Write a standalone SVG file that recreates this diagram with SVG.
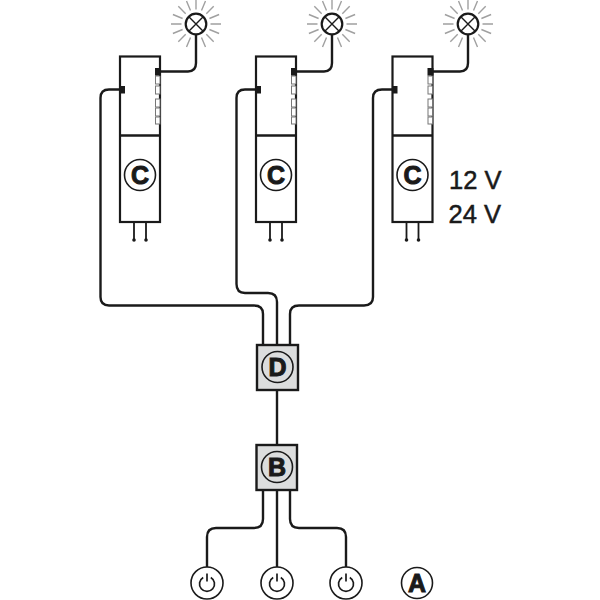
<svg xmlns="http://www.w3.org/2000/svg" width="600" height="600" viewBox="0 0 600 600">
<style>
.w{fill:none;stroke:#1a1a1a;stroke-width:2.4;stroke-linecap:butt}
.p{fill:none;stroke:#1a1a1a;stroke-width:1.8}
.b{fill:#fff;stroke:#1a1a1a;stroke-width:2.2}
.g{fill:#dcdddd;stroke:#1a1a1a;stroke-width:2.4}
.c{fill:none;stroke:#1a1a1a;stroke-width:1.6}
.cw{fill:#fff;stroke:#1a1a1a;stroke-width:1.6}
.ray{stroke:#a0a0a0;stroke-width:1.4;fill:none}
.s{fill:#fff;stroke:#777;stroke-width:1}
.l{font-family:"Liberation Sans",Arial,sans-serif;font-weight:700;font-size:25px;fill:#1a1a1a;stroke:#1a1a1a;stroke-width:1;text-anchor:middle}
.v{font-family:"Liberation Sans",Arial,sans-serif;font-size:25.500px;fill:#1a1a1a;stroke:#1a1a1a;stroke-width:.5}
</style>
<defs>
<g id="lamp">
<path class="ray" d="M0-14.500V-25M5.500-13.400 9.500-23.100M10.300-10.300 17.700-17.700M13.400-5.500 23.100-9.500M14.500 0H25M13.400 5.500 23.100 9.500M10.300 10.300 17.700 17.700M5.500 13.400 9.500 23.100M-5.500-13.400-9.500-23.100M-10.300-10.300-17.700-17.700M-13.400-5.500-23.100-9.500M-14.500 0H-25M-13.400 5.500-23.100 9.500M-10.300 10.300-17.700 17.700M-5.500 13.400-9.500 23.100"/>
<circle r="10.300" fill="#fff" stroke="#1a1a1a" stroke-width="2.200"/>
<path d="M-7.200-7.200 7.200 7.200M-7.200 7.200 7.200-7.200" stroke="#1a1a1a" stroke-width="1.400"/>
</g>
<g id="module">
<path class="p" d="M14 222V240M26 222V240"/>
<circle cx="14" cy="240" r="1.800" fill="#1a1a1a"/><circle cx="26" cy="240" r="1.800" fill="#1a1a1a"/>
<rect class="b" x="0" y="56.500" width="40" height="165.500"/>
<path class="w" d="M0 135.500H40"/>
<rect class="s" x="35.500" y="76" width="4.500" height="8"/><rect class="s" x="35.500" y="86" width="4.500" height="8"/><rect class="s" x="35.500" y="99" width="4.500" height="8"/><rect class="s" x="35.500" y="108" width="4.500" height="8"/><rect class="s" x="35.500" y="117" width="4.500" height="7"/>
<rect x="35" y="68" width="6" height="7.500" fill="#1a1a1a"/>
<rect x="0" y="86" width="5" height="7.500" fill="#1a1a1a"/>
<circle class="c" cx="20" cy="175" r="15.500"/>
<text class="l" x="20" y="184">C</text>
</g>
<g id="power">
<circle class="cw" r="16"/>
<path d="M-3.800-5.500A7.500 7.500 0 1 0 3.800-5.500M0-9.500V-1.500" fill="none" stroke="#1a1a1a" stroke-width="1.700"/>
</g>
</defs>
<g id="connectors">
<path class="w" d="M161 71.500H188Q196 71.500 196 63V34"/>
<path class="w" d="M297 71.500H324Q332 71.500 332 63V34"/>
<path class="w" d="M433 71.500H460Q468 71.500 468 63V34"/>
<path class="w" d="M120 89.500H109Q100.500 89.500 100.500 98V297Q100.500 305.500 109 305.500H254Q263 305.500 263 314V345"/>
<path class="w" d="M256 89.500H245Q236.500 89.500 236.500 98V284Q236.500 293 245 293H268Q277 293 277 302V345"/>
<path class="w" d="M392 89.500H382Q373 89.500 373 98V297Q373 305.500 364 305.500H299Q290 305.500 290 314V345"/>
<path class="w" d="M277 390V445"/>
<path class="w" d="M263 490V519Q263 528 254 528H216Q207 528 207 537V567"/>
<path class="w" d="M277 490V567"/>
<path class="w" d="M290 490V519Q290 528 299 528H337Q346 528 346 537V567"/>
</g>
<g id="lamp1"><use href="#lamp" x="196" y="24"/></g>
<g id="lamp2"><use href="#lamp" x="332" y="24"/></g>
<g id="lamp3"><use href="#lamp" x="468" y="24"/></g>
<g id="module1"><use href="#module" x="120"/></g>
<g id="module2"><use href="#module" x="256"/></g>
<g id="module3"><use href="#module" x="392.500"/></g>
<g id="voltage"><text class="v" x="449" y="189">12 V</text><text class="v" x="448.500" y="222.500">24 V</text></g>
<g id="nodeD"><rect class="g" x="257" y="345" width="41" height="45"/><circle class="c" cx="277.500" cy="367" r="15.500"/><text class="l" x="277.500" y="376">D</text></g>
<g id="nodeB"><rect class="g" x="256.500" y="445" width="40.500" height="45"/><circle class="c" cx="277" cy="467" r="15.500"/><text class="l" x="277" y="476">B</text></g>
<g id="switch1"><use href="#power" x="207" y="583"/></g>
<g id="switch2"><use href="#power" x="277" y="583"/></g>
<g id="switch3"><use href="#power" x="346" y="583"/></g>
<g id="nodeA"><circle class="c" cx="417" cy="583" r="15.500"/><text class="l" x="417" y="592">A</text></g>
</svg>
